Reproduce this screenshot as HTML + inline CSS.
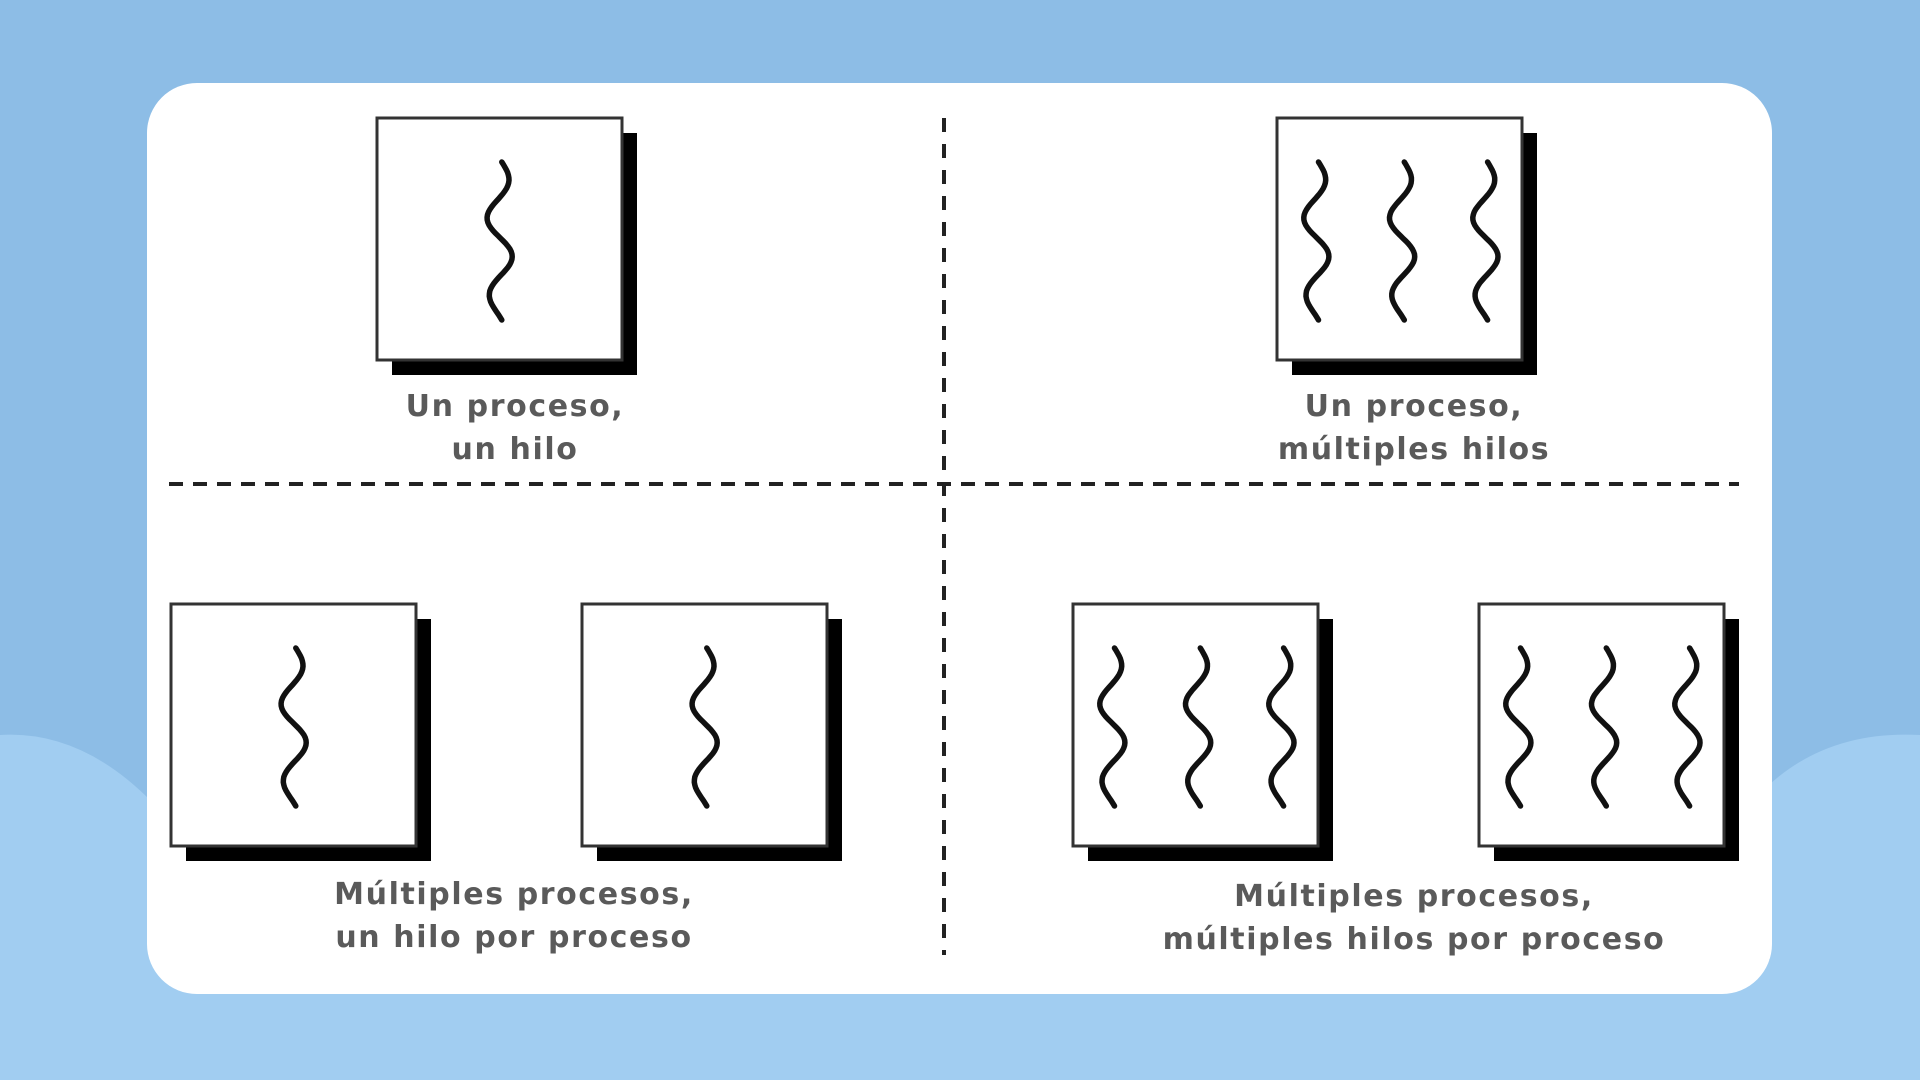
<!DOCTYPE html>
<html><head><meta charset="utf-8"><style>
html,body{margin:0;padding:0;width:1920px;height:1080px;overflow:hidden;background:#8dbde6;}
svg{display:block}
text{font-family:"DejaVu Sans","Liberation Sans",sans-serif;font-size:30px;font-weight:bold;letter-spacing:1.6px;fill:#5a5a5a;text-anchor:middle}
</style></head><body>
<svg id="s" width="1920" height="1080">
<path d="M0 735 Q80 730 150 800 L150 1080 L0 1080Z" fill="#a1cdf1"/>
<path d="M1770 784 Q1830 730 1920 735 L1920 1080 L1770 1080Z" fill="#a1cdf1"/>
<rect x="0" y="960" width="1920" height="120" fill="#a1cdf1"/>
<rect x="147" y="83" width="1625" height="911" rx="50" fill="#fff"/>
<line x1="169" y1="484" x2="1739" y2="484" stroke="#222" stroke-width="4" stroke-dasharray="14 10"/>
<line x1="944" y1="118" x2="944" y2="955" stroke="#222" stroke-width="4" stroke-dasharray="14 12"/>
<g id="boxes"></g>
<text x="515" y="416">Un proceso,</text>
<text x="515" y="459">un hilo</text>
<text x="1414" y="416">Un proceso,</text>
<text x="1414" y="459">múltiples hilos</text>
<text x="514" y="904">Múltiples procesos,</text>
<text x="514" y="947">un hilo por proceso</text>
<text x="1414" y="906">Múltiples procesos,</text>
<text x="1414" y="949">múltiples hilos por proceso</text>
</svg>
<script>
const boxLefts=[377,1277,171,582,1073,1479];
const boxTops=[118,118,604,604,604,604];
const threadCounts=[1,3,1,1,3,3];
const g=document.getElementById('boxes');
const NS='http://www.w3.org/2000/svg';
const W=245,H=242;
function wave(cx,top,h){
  let d='';
  for(let i=0;i<=60;i++){
    const t=i/60;
    const x=cx+13*Math.sin(t*Math.PI*4+0.3)*(0.6+0.4*Math.sin(t*Math.PI));
    d+=(i?'L':'M')+x.toFixed(1)+' '+(top+t*h).toFixed(1);
  }
  return d;
}
boxLefts.forEach((x,i)=>{
  const y=boxTops[i];
  const sh=document.createElementNS(NS,'rect');
  
  
  sh.setAttribute('x',x+15);sh.setAttribute('y',y+15);sh.setAttribute('width',W);sh.setAttribute('height',H);sh.setAttribute('fill','#000');
  g.appendChild(sh);
  const r=document.createElementNS(NS,'rect');
  
  
  r.setAttribute('x',x);r.setAttribute('y',y);r.setAttribute('width',W);r.setAttribute('height',H);r.setAttribute('fill','#fff');r.setAttribute('stroke','#333');r.setAttribute('stroke-width','3');
  g.appendChild(r);
  const n=threadCounts[i];
  const offs=n===1?[0.5]:[0.16,0.51,0.85];
  offs.forEach(o=>{
    const p=document.createElementNS(NS,'path');
    
    
    p.setAttribute('d',wave(x+W*o,y+44,158));
    p.setAttribute('fill','none');p.setAttribute('stroke','#111');p.setAttribute('stroke-width','5.5');p.setAttribute('stroke-linecap','round');
    g.appendChild(p);
  });
});
</script>
</body></html>
